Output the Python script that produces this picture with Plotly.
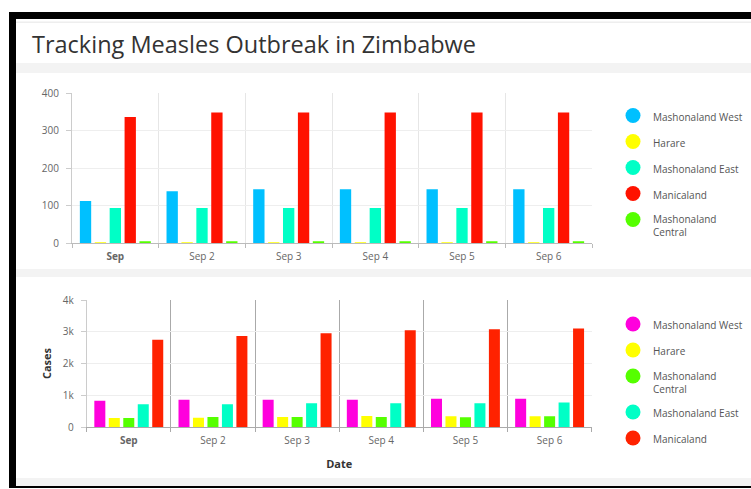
import plotly.graph_objects as go

W, H = 751, 489

dates = ["<b>Sep</b>", "Sep 2", "Sep 3", "Sep 4", "Sep 5", "Sep 6"]

# Top panel (order as in reference)
top_names = ["Mashonaland West", "Harare", "Mashonaland East", "Manicaland", "Mashonaland<br>Central"]
top_colors = ["#00C0FF", "#FFFF00", "#00FFC6", "#FF1200", "#55FF00"]
top_mash_west = [113, 139, 144, 144, 144, 144]
top_harare = [1, 1, 1, 1, 1, 1]
top_mash_east = [94, 94, 94, 94, 94, 94]
top_manicaland = [337, 349, 349, 349, 349, 349]
top_mash_central = [4, 4, 4, 4, 4, 4]
top_values = [top_mash_west, top_harare, top_mash_east, top_manicaland, top_mash_central]

# Bottom panel
bot_names = ["Mashonaland West", "Harare", "Mashonaland<br>Central", "Mashonaland East", "Manicaland"]
bot_colors = ["#FF00DD", "#FFFF00", "#55FF00", "#00FFC6", "#FF2200"]
bot_mash_west = [830, 860, 860, 860, 890, 890]
bot_harare = [285, 290, 315, 345, 335, 335]
bot_mash_central = [280, 315, 315, 315, 305, 335]
bot_mash_east = [715, 720, 745, 745, 745, 775]
bot_manicaland = [2750, 2865, 2950, 3045, 3075, 3105]
bot_values = [bot_mash_west, bot_harare, bot_mash_central, bot_mash_east, bot_manicaland]

title_text = "Tracking Measles Outbreak in Zimbabwe"


def px(x):
    return x / W


def py(y):
    return 1 - y / H


FONT = "Open Sans"
fig = go.Figure()

for name, col, vals in zip(top_names, top_colors, top_values):
    fig.add_trace(go.Bar(x=dates, y=vals, marker=dict(color=col, line=dict(width=0)),
                         xaxis="x", yaxis="y", showlegend=False, name=name))
for name, col in zip(top_names, top_colors):
    fig.add_trace(go.Scatter(x=[None], y=[None], mode="markers", name=name,
                             marker=dict(color=col, size=15, symbol="circle"),
                             xaxis="x", yaxis="y", legend="legend", legendgroup="t" + name))

for name, col, vals in zip(bot_names, bot_colors, bot_values):
    fig.add_trace(go.Bar(x=dates, y=vals, marker=dict(color=col, line=dict(width=0)),
                         xaxis="x2", yaxis="y2", showlegend=False, name=name))
for name, col in zip(bot_names, bot_colors):
    fig.add_trace(go.Scatter(x=[None], y=[None], mode="markers", name=name,
                             marker=dict(color=col, size=15, symbol="circle"),
                             xaxis="x2", yaxis="y2", legend="legend2", legendgroup="b" + name))


def band(y0, y1, color, x0=16):
    return dict(type="rect", xref="paper", yref="paper", x0=px(x0), x1=px(W + 10),
                y0=py(y1), y1=py(y0), fillcolor=color, line=dict(width=0), layer="below")


shapes = [
    band(12, 488, "#000000", x0=9),      # black frame
    band(19, 486, "#ffffff"),            # white card
    band(21.5, 23, "#eeeeee"),
    band(63, 73, "#f3f3f3"),
    band(269, 277, "#f3f3f3"),
    band(478, 486, "#f3f3f3"),
]

tickfont = dict(family=FONT, size=10, color="#666666")
legfont = dict(family=FONT, size=10, color="#555555")

fig.update_layout(
    width=W, height=H,
    margin=dict(l=0, r=0, t=0, b=0, pad=0, autoexpand=False),
    paper_bgcolor="#ffffff",
    plot_bgcolor="rgba(0,0,0,0)",
    barmode="group", bargap=0.14, bargroupgap=0.24,
    font=dict(family=FONT, color="#555555"),
    title=dict(text=title_text, x=px(32), xanchor="left", xref="container",
               y=py(45), yanchor="middle", yref="container", automargin=False,
               font=dict(family=FONT, size=23.5, color="#333333")),
    shapes=shapes,
    xaxis=dict(domain=[px(72), px(592)], anchor="y", type="category", tickson="boundaries",
               showgrid=True, gridcolor="#e6e6e6", showline=True, linecolor="#bbbbbb",
               ticks="outside", ticklen=4, tickcolor="#bbbbbb", tickfont=tickfont, automargin=False,
               ticklabelstandoff=4),
    yaxis=dict(domain=[py(243.3), py(93.3)], anchor="x", range=[0, 400], dtick=100,
               showgrid=True, gridcolor="#eeeeee", showline=True, linecolor="#cccccc",
               ticks="outside", ticklen=5, tickcolor="#cccccc", tickfont=tickfont, zeroline=False,
               automargin=False, ticklabelstandoff=5),
    xaxis2=dict(domain=[px(86.7), px(591.7)], anchor="y2", type="category", tickson="boundaries",
                showgrid=True, gridcolor="#aaaaaa", showline=True, linecolor="#aaaaaa",
                ticks="outside", ticklen=4, tickcolor="#aaaaaa", tickfont=tickfont, automargin=False,
                ticklabelstandoff=4,
                title=dict(text="<b>Date</b>", font=dict(family=FONT, size=11, color="#333333"), standoff=14)),
    yaxis2=dict(domain=[py(427), py(300)], anchor="x2", range=[0, 4000],
                tickvals=[0, 1000, 2000, 3000, 4000], tickformat="~s",
                showgrid=True, gridcolor="#eeeeee", showline=True, linecolor="#cccccc",
                ticks="outside", ticklen=5, tickcolor="#cccccc", tickfont=tickfont, zeroline=False,
                automargin=False, ticklabelstandoff=5,
                title=dict(text="<b>Cases</b>", font=dict(family=FONT, size=11, color="#333333"), standoff=8)),
    legend=dict(x=px(613), xanchor="left", y=py(102.5), yanchor="top", valign="top",
                font=legfont, tracegroupgap=7, bgcolor="rgba(0,0,0,0)", itemsizing="trace"),
    legend2=dict(x=px(613), xanchor="left", y=py(311), yanchor="top", valign="top",
                 font=legfont, tracegroupgap=7, bgcolor="rgba(0,0,0,0)", itemsizing="trace"),
)

fig.write_html(
    "out.html",
    config={"displayModeBar": False},
    post_script="document.body.style.margin='0';document.body.style.padding='0';"
                "document.body.style.overflow='hidden';",
)
